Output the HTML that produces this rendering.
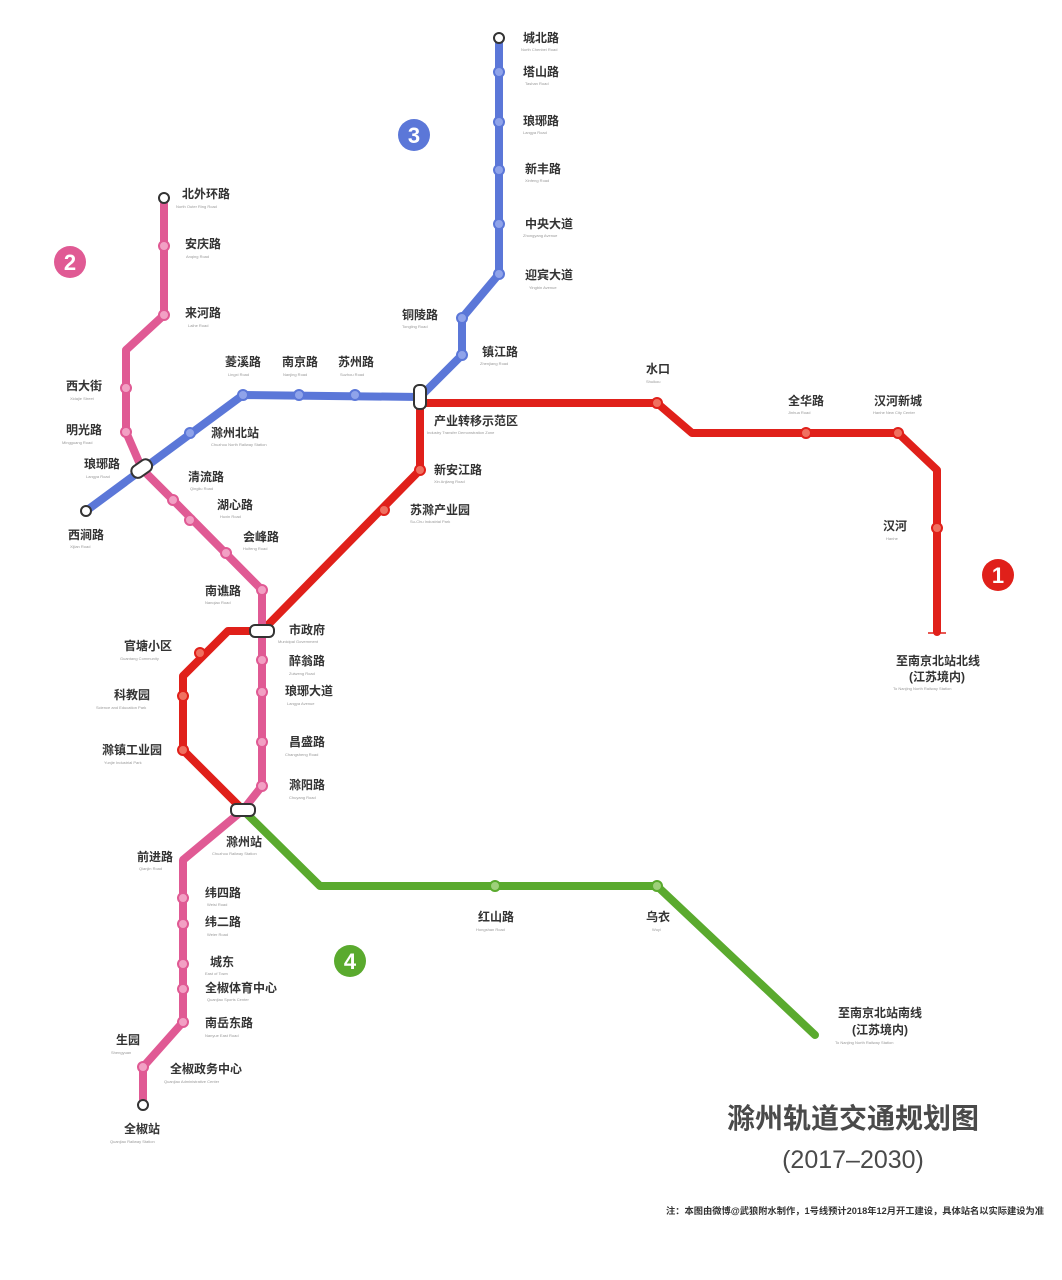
<!DOCTYPE html>
<html><head><meta charset="utf-8"><style>
html,body{margin:0;padding:0;background:#fff;}
svg{display:block}
text{font-family:"Liberation Sans","Noto Sans CJK SC",sans-serif;}
.cn{font-size:12px;font-weight:bold;fill:#333}
.en{font-size:4px;fill:#999}
</style></head><body>
<svg width="1062" height="1280" viewBox="0 0 1062 1280" xmlns="http://www.w3.org/2000/svg">
<g fill="none" stroke-linejoin="round" stroke-linecap="round" stroke-width="8">
<polyline stroke="#5b77d8" points="499,38 499,274 462,318 462,355 420,397 243,395 86,511"/>
<polyline stroke="#e0201a" points="420,397 420,403 657,403 692,433 898,433 937,470 937,632"/>
<polyline stroke="#e0201a" points="420,403 420,470 262,631 228,631 183,676 183,750 243,810"/>
<polyline stroke="#e05a94" points="164,198 164,315 126,350 126,432 142,469 173,500 262,590 262,786 243,810 183,860 183,1022 143,1067 143,1105"/>
<polyline stroke="#5aaa2e" points="243,810 320,886 657,886 815,1035"/>
</g>
<g stroke-width="2">
<g fill="#8fa3ea" stroke="#5b77d8">
<circle cx="499" cy="72" r="5"/><circle cx="499" cy="122" r="5"/><circle cx="499" cy="170" r="5"/><circle cx="499" cy="224" r="5"/><circle cx="499" cy="274" r="5"/><circle cx="462" cy="318" r="5"/><circle cx="462" cy="355" r="5"/><circle cx="355" cy="395" r="5"/><circle cx="299" cy="395" r="5"/><circle cx="243" cy="395" r="5"/><circle cx="190" cy="433" r="5"/>
</g>
<g fill="#f07060" stroke="#e0201a">
<circle cx="657" cy="403" r="5"/><circle cx="806" cy="433" r="5"/><circle cx="898" cy="433" r="5"/><circle cx="937" cy="528" r="5"/><circle cx="420" cy="470" r="5"/><circle cx="384" cy="510" r="5"/><circle cx="200" cy="653" r="5"/><circle cx="183" cy="696" r="5"/><circle cx="183" cy="750" r="5"/>
</g>
<g fill="#f2a0c4" stroke="#e05a94">
<circle cx="164" cy="246" r="5"/><circle cx="164" cy="315" r="5"/><circle cx="126" cy="388" r="5"/><circle cx="126" cy="432" r="5"/><circle cx="173" cy="500" r="5"/><circle cx="190" cy="520" r="5"/><circle cx="226" cy="553" r="5"/><circle cx="262" cy="590" r="5"/><circle cx="262" cy="660" r="5"/><circle cx="262" cy="692" r="5"/><circle cx="262" cy="742" r="5"/><circle cx="262" cy="786" r="5"/><circle cx="183" cy="898" r="5"/><circle cx="183" cy="924" r="5"/><circle cx="183" cy="964" r="5"/><circle cx="183" cy="989" r="5"/><circle cx="183" cy="1022" r="5"/><circle cx="143" cy="1067" r="5"/>
</g>
<g fill="#9ed07a" stroke="#5aaa2e"><circle cx="495" cy="886" r="5"/><circle cx="657" cy="886" r="5"/></g>
<g fill="#fff" stroke="#333">
<circle cx="499" cy="38" r="5"/><circle cx="164" cy="198" r="5"/><circle cx="86" cy="511" r="5"/><circle cx="143" cy="1105" r="5"/>
<rect x="414" y="385" width="12" height="24" rx="5"/>
<rect x="131" y="462" width="22" height="13" rx="6" transform="rotate(-35 142 469)"/>
<rect x="250" y="625" width="24" height="12" rx="5"/>
<rect x="231" y="804" width="24" height="12" rx="5"/>
</g>
</g>
<g stroke="#e0201a" stroke-width="1.5"><line x1="928" y1="633" x2="946" y2="633"/></g>
<circle cx="414" cy="135" r="16" fill="#5b77d8"/><text x="414" y="143" text-anchor="middle" font-size="22" fill="#fff" font-weight="bold">3</text>
<circle cx="70" cy="262" r="16" fill="#e05a94"/><text x="70" y="270" text-anchor="middle" font-size="22" fill="#fff" font-weight="bold">2</text>
<circle cx="998" cy="575" r="16" fill="#e0201a"/><text x="998" y="583" text-anchor="middle" font-size="22" fill="#fff" font-weight="bold">1</text>
<circle cx="350" cy="961" r="16" fill="#5aaa2e"/><text x="350" y="969" text-anchor="middle" font-size="22" fill="#fff" font-weight="bold">4</text>
<g class="cn">
<text x="523" y="42">城北路</text><text x="523" y="76">塔山路</text><text x="523" y="125">琅琊路</text><text x="525" y="173">新丰路</text><text x="525" y="228">中央大道</text><text x="525" y="279">迎宾大道</text>
<text x="402" y="319">铜陵路</text><text x="482" y="356">镇江路</text>
<text x="225" y="366">菱溪路</text><text x="282" y="366">南京路</text><text x="338" y="366">苏州路</text>
<text x="211" y="437">滁州北站</text><text x="66" y="390">西大街</text><text x="66" y="434">明光路</text><text x="84" y="468">琅琊路</text><text x="68" y="539">西涧路</text>
<text x="182" y="198">北外环路</text><text x="185" y="248">安庆路</text><text x="185" y="317">来河路</text>
<text x="188" y="481">清流路</text><text x="217" y="509">湖心路</text><text x="243" y="541">会峰路</text><text x="205" y="595">南谯路</text>
<text x="646" y="373">水口</text><text x="788" y="405">全华路</text><text x="874" y="405">汉河新城</text><text x="883" y="530">汉河</text>
<text x="434" y="425">产业转移示范区</text><text x="434" y="474">新安江路</text><text x="410" y="514">苏滁产业园</text>
<text x="289" y="634">市政府</text><text x="289" y="665">醉翁路</text><text x="285" y="695">琅琊大道</text><text x="289" y="746">昌盛路</text><text x="289" y="789">滁阳路</text>
<text x="124" y="650">官塘小区</text><text x="114" y="699">科教园</text><text x="102" y="754">滁镇工业园</text>
<text x="226" y="846">滁州站</text><text x="137" y="861">前进路</text><text x="205" y="897">纬四路</text><text x="205" y="926">纬二路</text><text x="210" y="966">城东</text><text x="205" y="992">全椒体育中心</text><text x="205" y="1027">南岳东路</text><text x="116" y="1044">生园</text><text x="170" y="1073">全椒政务中心</text><text x="124" y="1133">全椒站</text>
<text x="478" y="921">红山路</text><text x="646" y="921">乌衣</text>
<text x="896" y="665">至南京北站北线</text><text x="909" y="681">(江苏境内)</text>
<text x="838" y="1017">至南京北站南线</text><text x="852" y="1034">(江苏境内)</text>
</g>
<g class="en">
<text x="521" y="51">North Chenbei Road</text><text x="525" y="85">Tashan Road</text><text x="523" y="134">Langya Road</text><text x="525" y="182">Xinfeng Road</text><text x="523" y="237">Zhongyang Avenue</text><text x="529" y="289">Yingbin Avenue</text>
<text x="402" y="328">Tongling Road</text><text x="480" y="365">Zhenjiang Road</text>
<text x="228" y="376">Lingxi Road</text><text x="283" y="376">Nanjing Road</text><text x="340" y="376">Suzhou Road</text>
<text x="211" y="446">Chuzhou North Railway Station</text><text x="70" y="400">Xidajie Street</text><text x="62" y="444">Mingguang Road</text><text x="86" y="478">Langya Road</text><text x="70" y="548">Xijian Road</text>
<text x="176" y="208">North Outer Ring Road</text><text x="186" y="258">Anqing Road</text><text x="188" y="327">Laihe Road</text>
<text x="190" y="490">Qingliu Road</text><text x="220" y="518">Huxin Road</text><text x="243" y="550">Huifeng Road</text><text x="205" y="604">Nanqiao Road</text>
<text x="646" y="383">Shuikou</text><text x="788" y="414">Jinhua Road</text><text x="873" y="414">Hanhe New City Center</text><text x="886" y="540">Hanhe</text>
<text x="427" y="434">Industry Transfer Demonstration Zone</text><text x="434" y="483">Xin Anjiang Road</text><text x="410" y="523">Su-Chu Industrial Park</text>
<text x="278" y="643">Municipal Government</text><text x="289" y="675">Zuiweng Road</text><text x="287" y="705">Langya Avenue</text><text x="285" y="756">Changsheng Road</text><text x="289" y="799">Chuyang Road</text>
<text x="120" y="660">Guantang Community</text><text x="96" y="709">Science and Education Park</text><text x="104" y="764">Yunjie Industrial Park</text>
<text x="212" y="855">Chuzhou Railway Station</text><text x="139" y="870">Qianjin Road</text><text x="207" y="906">Weisi Road</text><text x="207" y="936">Weier Road</text><text x="205" y="975">East of Town</text><text x="207" y="1001">Quanjiao Sports Center</text><text x="205" y="1037">Nanyue East Road</text><text x="111" y="1054">Shengyuan</text><text x="164" y="1083">Quanjiao Administrative Center</text><text x="110" y="1143">Quanjiao Railway Station</text>
<text x="476" y="931">Hongshan Road</text><text x="652" y="931">Wuyi</text>
<text x="893" y="690">To Nanjing North Railway Station</text><text x="835" y="1044">To Nanjing North Railway Station</text>
</g>
<text x="853" y="1128" text-anchor="middle" font-size="28" font-weight="bold" fill="#4a4a4a">滁州轨道交通规划图</text>
<text x="853" y="1168" text-anchor="middle" font-size="25" fill="#4a4a4a">(2017–2030)</text>
<text x="666" y="1214" font-size="9" font-weight="bold" fill="#333" textLength="378" lengthAdjust="spacingAndGlyphs">注：本图由微博@武狼附水制作，1号线预计2018年12月开工建设，具体站名以实际建设为准</text>
</svg>
</body></html>
